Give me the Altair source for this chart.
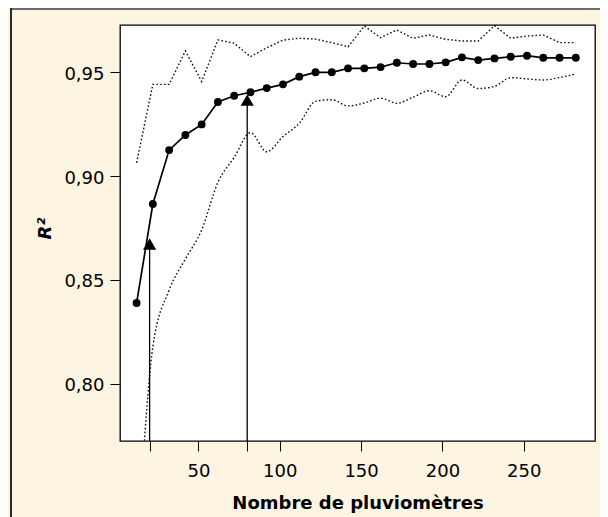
import altair as alt
import pandas as pd

# ---- data ----
n_gauges = [12, 22, 32, 42, 52, 62, 72, 82, 92, 102, 112, 122, 132, 142,
            152, 162, 172, 182, 192, 202, 212, 222, 232, 242, 252, 262, 272, 282]
r2_mean = [0.8388, 0.8865, 0.9125, 0.9198, 0.9249, 0.9357, 0.9387, 0.9404,
           0.9424, 0.9442, 0.9479, 0.9500, 0.9500, 0.9519, 0.9519, 0.9525,
           0.9546, 0.9540, 0.9540, 0.9548, 0.9572, 0.9559, 0.9567, 0.9575,
           0.9580, 0.9570, 0.9570, 0.9570]
r2_upper = [0.9064, 0.9442, 0.9442, 0.9603, 0.9455, 0.9656, 0.9640, 0.9575,
            0.9618, 0.9655, 0.9664, 0.9660, 0.9643, 0.9623, 0.9723, 0.9667,
            0.9704, 0.9664, 0.9680, 0.9659, 0.9651, 0.9651, 0.9725, 0.9664,
            0.9675, 0.9680, 0.9643, 0.9643]
r2_lower = [0.7120, 0.8177, 0.8450, 0.8600, 0.8740, 0.8970, 0.9090, 0.9209,
            0.9117, 0.9190, 0.9254, 0.9360, 0.9368, 0.9338, 0.9352, 0.9375,
            0.9351, 0.9380, 0.9411, 0.9382, 0.9463, 0.9422, 0.9432, 0.9474,
            0.9468, 0.9463, 0.9475, 0.9492]
arrow_x = [20, 80]
arrow_y = [0.8672, 0.9366]
x_ticks = [20, 50, 80, 100, 150, 200, 250]
y_ticks = [0.80, 0.85, 0.90, 0.95]
x_domain = [1.8, 293.8]
y_domain = [0.7723, 0.9728]

df = pd.DataFrame({"n": n_gauges, "mean": r2_mean,
                   "upper": r2_upper, "lower": r2_lower})
arrows = pd.DataFrame({"n": arrow_x, "r2": arrow_y})

FONT = "DejaVu Sans"
xscale = alt.Scale(domain=x_domain, nice=False, zero=False)
yscale = alt.Scale(domain=y_domain, nice=False, zero=False)

x_axis = alt.Axis(
    values=x_ticks,
    labelExpr="datum.value == 20 || datum.value == 80 ? '' : datum.label",
    tickSize=10, tickColor="black", tickWidth=1, domain=False, grid=False,
    labelFont=FONT, labelFontSize=18, labelColor="black", labelPadding=11,
    titleFont=FONT, titleFontSize=18,
    titleFontWeight="bold", titleColor="black",
    titleY=67, titleBaseline="alphabetic",
)
y_axis = alt.Axis(
    values=y_ticks,
    labelExpr="replace(format(datum.value, '.2f'), '.', ',')",
    tickSize=10, tickColor="black", tickWidth=1, domain=False, grid=False,
    labelFont=FONT, labelFontSize=18, labelColor="black", labelPadding=6,
    labelOffset=2,
    titleFont=FONT, titleFontSize=18, titleFontWeight="bold",
    titleFontStyle="italic", titleColor="black",
    titleX=-70, titleY=203, titleBaseline="alphabetic", titleAngle=270,
)
X_TITLE = "Nombre de pluviomètres"
Y_TITLE = "R²"


def xenc():
    return alt.X("n:Q", scale=xscale, axis=x_axis, title=X_TITLE)


def yenc(field):
    return alt.Y(f"{field}:Q", scale=yscale, axis=y_axis, title=Y_TITLE)


base = alt.Chart(df)

upper = base.mark_line(color="#111", strokeWidth=1.4, strokeDash=[1.6, 2.2],
                       clip=True).encode(x=xenc(), y=yenc("upper"))
lower = base.mark_line(color="#111", strokeWidth=1.4, strokeDash=[1.6, 2.2],
                       interpolate="monotone", clip=True).encode(
    x=xenc(), y=yenc("lower"))
mean_line = base.mark_line(color="black", strokeWidth=1.7, clip=True).encode(
    x=xenc(), y=yenc("mean"))
mean_pts = base.mark_circle(color="black", size=62, opacity=1).encode(
    x=xenc(), y=yenc("mean"))

arrow_rule = alt.Chart(arrows).mark_rule(color="black", strokeWidth=1.3).encode(
    x=xenc(), y=yenc("r2"), y2=alt.datum(y_domain[0]),
)
arrow_head = alt.Chart(arrows).mark_point(
    shape="triangle-up", filled=True, color="black", size=175, opacity=1
).encode(x=xenc(), y=yenc("r2"))

one = alt.Data(values=[{}])
frame_top = alt.Chart(one).mark_rule(color="#6a6a6a", strokeWidth=2).encode(
    x=alt.value(-110), x2=alt.value(490), y=alt.value(-16)
)
frame_left = alt.Chart(one).mark_rule(color="#2a2a2a", strokeWidth=2).encode(
    x=alt.value(-109), y=alt.value(-17), y2=alt.value(500)
)

chart = alt.layer(
    upper, lower, mean_line, mean_pts, arrow_rule, arrow_head, frame_top, frame_left
).properties(
    width=475, height=416,
    padding={"left": 112, "top": 17, "right": 5, "bottom": 76},
    autosize=alt.AutoSizeParams(type="none"),
    background="#fdf5e2",
).configure_view(
    fill="white", stroke="black", strokeWidth=1.3
)

chart.save("out.html", embed_options={"renderer": "svg", "actions": False})
